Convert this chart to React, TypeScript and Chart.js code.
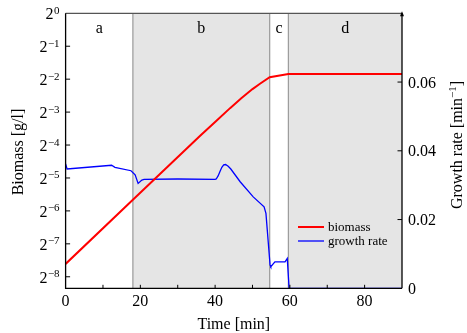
import React, { useEffect, useRef } from "react";
import { Chart, registerables } from "chart.js";

Chart.register(...registerables);

// ---- data ----
const biomassTime = [0, 18, 36, 40, 44, 47, 50, 52, 54.6, 59.6, 90];
const biomassValues = [0.00512, 0.0198, 0.0759, 0.1015, 0.1359, 0.1672, 0.203, 0.227, 0.2605, 0.279, 0.279];

const growthTime = [0, 0.4, 12.3, 13.2, 17.5, 18.6, 19.4, 20.4, 21, 30, 40, 40.3, 40.8, 41.3, 41.8, 42.3, 42.8, 43.5, 44.2, 46.7, 50.2, 53.1, 53.6, 54.7, 54.9, 56.0, 58.7, 59.3, 59.8, 90];
const growthValues = [0.0362, 0.0347, 0.0358, 0.0352, 0.0342, 0.0330, 0.0305, 0.0315, 0.0317, 0.0318, 0.0317, 0.0318, 0.0327, 0.0340, 0.0352, 0.0359, 0.0360, 0.0355, 0.0347, 0.0310, 0.0266, 0.0237, 0.0218, 0.0068, 0.0063, 0.0077, 0.0077, 0.0087, 0.0, 0.0];

const phaseBounds = [0, 18, 54.6, 59.6, 90];
const phaseLabels = ["a", "b", "c", "d"];
const phaseShaded = [false, true, false, true];

const xLabelTicks = [0, 20, 40, 60, 80];
const xMinorTicks = [10, 20, 30, 40, 50, 60, 70, 80];
const leftTickExponents = [-8, -7, -6, -5, -4, -3, -2, -1, 0];
const rightTickValues = [0, 0.02, 0.04, 0.06];

const seriesNames = ["biomass", "growth rate"];
const seriesColors = ["#ff0000", "#0000ff"];

const W = 467;
const H = 333;
const SERIF = "'Liberation Serif', 'Times New Roman', serif";

const decorPlugin = {
  id: "decor",
  beforeDatasetsDraw(chart: any) {
    const { ctx, chartArea } = chart;
    const xs = chart.scales.x;
    ctx.save();
    for (let i = 0; i < phaseLabels.length; i++) {
      if (!phaseShaded[i]) continue;
      const x0 = xs.getPixelForValue(phaseBounds[i]);
      const x1 = xs.getPixelForValue(phaseBounds[i + 1]);
      ctx.fillStyle = "#e5e5e5";
      ctx.fillRect(x0, chartArea.top, x1 - x0, chartArea.bottom - chartArea.top);
    }
    ctx.strokeStyle = "#9a9a9a";
    ctx.lineWidth = 1.2;
    for (let i = 1; i < phaseBounds.length - 1; i++) {
      const x = xs.getPixelForValue(phaseBounds[i]);
      ctx.beginPath();
      ctx.moveTo(x, chartArea.top);
      ctx.lineTo(x, chartArea.bottom);
      ctx.stroke();
    }
    ctx.restore();
  },
  afterDatasetsDraw(chart: any) {
    const { ctx, chartArea } = chart;
    const xs = chart.scales.x;
    const ys = chart.scales.y;
    const y1 = chart.scales.y1;
    const { left, right, top, bottom } = chartArea;
    ctx.save();

    // phase labels
    ctx.fillStyle = "#000";
    ctx.font = `16px ${SERIF}`;
    ctx.textAlign = "center";
    ctx.textBaseline = "alphabetic";
    for (let i = 0; i < phaseLabels.length; i++) {
      const xm = xs.getPixelForValue((phaseBounds[i] + phaseBounds[i + 1]) / 2);
      ctx.fillText(phaseLabels[i], xm, top + 20);
    }

    // frame
    ctx.lineWidth = 1.3;
    ctx.strokeStyle = "#555";
    ctx.beginPath();
    ctx.moveTo(left, top);
    ctx.lineTo(right, top);
    ctx.stroke();
    ctx.strokeStyle = "#000";
    ctx.beginPath();
    ctx.moveTo(left, top);
    ctx.lineTo(left, bottom);
    ctx.lineTo(right, bottom);
    ctx.moveTo(right, bottom);
    ctx.lineTo(right, top);
    ctx.stroke();
    // arrow tip on right axis
    ctx.fillStyle = "#000";
    ctx.beginPath();
    ctx.moveTo(right, top - 2);
    ctx.lineTo(right - 2, top + 3);
    ctx.lineTo(right + 2, top + 3);
    ctx.closePath();
    ctx.fill();

    // ticks
    ctx.lineWidth = 1;
    ctx.beginPath();
    for (const t of xMinorTicks) {
      const x = xs.getPixelForValue(t);
      ctx.moveTo(x, bottom);
      ctx.lineTo(x, bottom - 3.5);
    }
    for (const t of ys.ticks) {
      const y = ys.getPixelForValue(t.value);
      if (Math.abs(y - top) < 1) continue;
      ctx.moveTo(left, y);
      ctx.lineTo(left + 4.5, y);
    }
    for (const t of y1.ticks) {
      const y = y1.getPixelForValue(t.value);
      if (Math.abs(y - bottom) < 1) continue;
      ctx.moveTo(right, y);
      ctx.lineTo(right - 4.5, y);
    }
    ctx.stroke();

    // x tick labels
    ctx.fillStyle = "#000";
    ctx.font = `16px ${SERIF}`;
    ctx.textAlign = "center";
    ctx.textBaseline = "alphabetic";
    for (const t of xs.ticks) {
      if (!xLabelTicks.includes(t.value)) continue;
      ctx.fillText(String(t.value), xs.getPixelForValue(t.value), bottom + 17.5);
    }
    ctx.fillText("Time [min]", (left + right) / 2, 329);

    // left tick labels (2^n)
    for (const t of ys.ticks) {
      const y = ys.getPixelForValue(t.value);
      const e = Math.round(Math.log2(t.value));
      const sup = e === 0 ? "0" : "\u2212" + Math.abs(e);
      ctx.font = `11px ${SERIF}`;
      const supW = ctx.measureText(sup).width;
      ctx.font = `16px ${SERIF}`;
      const baseW = ctx.measureText("2").width;
      const xr = left - 6;
      ctx.textAlign = "left";
      ctx.fillText("2", xr - supW - baseW - 0.5, y + 6);
      ctx.font = `11px ${SERIF}`;
      ctx.fillText(sup, xr - supW, y + 0.5);
    }

    // right tick labels
    ctx.font = `16px ${SERIF}`;
    ctx.textAlign = "left";
    for (const t of y1.ticks) {
      const y = y1.getPixelForValue(t.value);
      const label = t.value === 0 ? "0" : t.value.toFixed(2);
      ctx.fillText(label, right + 6, y + 5.5);
    }

    // left title
    ctx.save();
    ctx.translate(23, 152);
    ctx.rotate(-Math.PI / 2);
    ctx.textAlign = "center";
    ctx.font = `16px ${SERIF}`;
    ctx.fillText("Biomass [g/l]", 0, 0);
    ctx.restore();

    // right title with superscript
    ctx.save();
    ctx.translate(462, 145);
    ctx.rotate(-Math.PI / 2);
    ctx.textAlign = "left";
    const p1 = "Growth rate [min";
    const p2 = "\u22121";
    const p3 = "]";
    ctx.font = `16px ${SERIF}`;
    const w1 = ctx.measureText(p1).width;
    const w3 = ctx.measureText(p3).width;
    ctx.font = `11px ${SERIF}`;
    const w2 = ctx.measureText(p2).width;
    const total = w1 + w2 + w3;
    let cx = -total / 2;
    ctx.font = `16px ${SERIF}`;
    ctx.fillText(p1, cx, 0);
    cx += w1;
    ctx.font = `11px ${SERIF}`;
    ctx.fillText(p2, cx, -6);
    cx += w2;
    ctx.font = `16px ${SERIF}`;
    ctx.fillText(p3, cx, 0);
    ctx.restore();

    // legend
    const legY = [227, 241];
    const legW = [2, 1.3];
    ctx.font = `13px ${SERIF}`;
    ctx.textBaseline = "middle";
    ctx.textAlign = "left";
    for (let i = 0; i < seriesNames.length; i++) {
      ctx.strokeStyle = seriesColors[i];
      ctx.lineWidth = legW[i];
      ctx.beginPath();
      ctx.moveTo(298, legY[i]);
      ctx.lineTo(324, legY[i]);
      ctx.stroke();
      ctx.fillStyle = "#000";
      ctx.fillText(seriesNames[i], 328, legY[i] + 0.5);
    }
    ctx.restore();
  },
};

export default function App() {
  const ref = useRef<HTMLCanvasElement | null>(null);
  useEffect(() => {
    if (!ref.current) return;
    const chart = new Chart(ref.current, {
      type: "line",
      data: {
        datasets: [
          {
            label: seriesNames[0],
            data: biomassTime.map((t, i) => ({ x: t, y: biomassValues[i] })),
            borderColor: seriesColors[0],
            borderWidth: 2,
            pointRadius: 0,
            tension: 0,
            yAxisID: "y",
          },
          {
            label: seriesNames[1],
            data: growthTime.map((t, i) => ({ x: t, y: growthValues[i] })),
            borderColor: seriesColors[1],
            borderWidth: 1.3,
            pointRadius: 0,
            tension: 0,
            yAxisID: "y1",
          },
        ],
      },
      options: {
        animation: false,
        responsive: false,
        devicePixelRatio: 1,
        layout: { padding: { top: 13.3, left: 0, right: 0, bottom: 0 } },
        plugins: { legend: { display: false }, tooltip: { enabled: false } },
        scales: {
          x: {
            type: "linear",
            position: "bottom",
            min: 0,
            max: 90,
            ticks: { display: false, stepSize: 10 },
            grid: { display: false },
            border: { display: false },
            afterFit: (s: any) => {
              s.height = H - 288.3 - 0;
            },
          },
          y: {
            type: "logarithmic",
            position: "left",
            min: Math.pow(2, -8.35),
            max: 1,
            ticks: { display: false },
            grid: { display: false },
            border: { display: false },
            afterBuildTicks: (s: any) => {
              s.ticks = leftTickExponents.map((e) => ({ value: Math.pow(2, e) }));
            },
            afterFit: (s: any) => {
              s.width = 65.6;
            },
          },
          y1: {
            type: "linear",
            position: "right",
            min: 0,
            max: 0.08,
            ticks: { display: false },
            grid: { display: false },
            border: { display: false },
            afterBuildTicks: (s: any) => {
              s.ticks = rightTickValues.map((v) => ({ value: v }));
            },
            afterFit: (s: any) => {
              s.width = W - 402;
            },
          },
        },
      },
      plugins: [decorPlugin],
    } as any);
    return () => chart.destroy();
  }, []);
  return (
    <div style={{ position: "fixed", left: 0, top: 0, width: W, height: H, background: "#fff" }}>
      <canvas ref={ref} width={W} height={H} style={{ width: W, height: H, display: "block" }} />
    </div>
  );
}
